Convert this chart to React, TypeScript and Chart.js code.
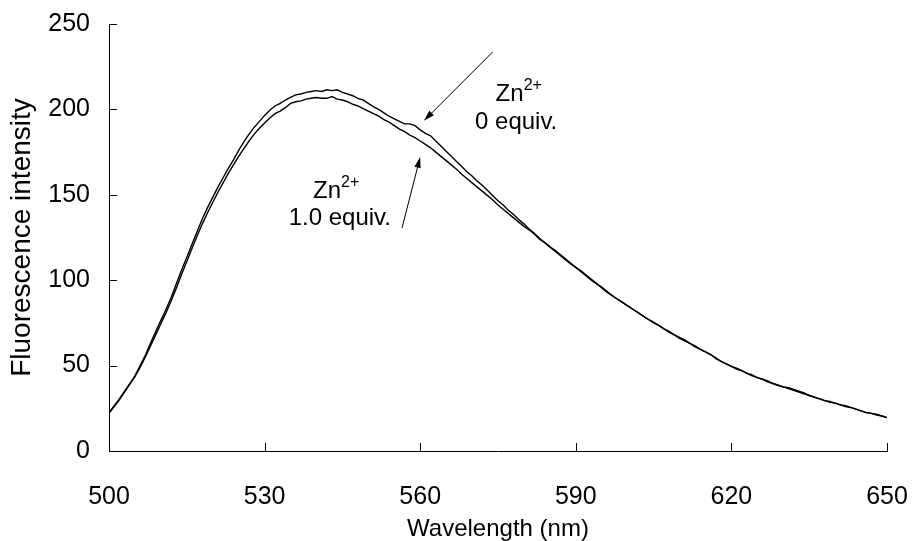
import { useEffect, useRef } from "react";
import { Chart, registerables } from "chart.js";

Chart.register(...registerables);

// Wavelength grid: 500 nm to 650 nm, 1 nm apart
const startNm = 500;
const stepNm = 1;

const xTickValues = [500, 530, 560, 590, 620, 650];
const yTickValues = [0, 50, 100, 150, 200, 250];

// Zn2+ 0 equiv.
const zn0Equiv = [
  22.5, 26.5, 30.5, 35, 39.5, 44, 50, 56, 63, 70,
  76.5, 83, 90, 98, 106, 113.5, 121, 128.5, 136, 142.5,
  148.5, 154.5, 160, 165.5, 170.5, 176, 181, 185.5, 189.5, 193,
  196.5, 199.5, 202, 203.5, 205.5, 207, 208.5, 209, 210, 210.5,
  211, 210.5, 211.5, 211, 211.5, 210, 209, 208, 206.5, 205.5,
  203.5, 201.5, 200, 198, 196, 194.5, 193, 191.5, 191.5, 190.5,
  188, 186, 184.5, 181.5, 178.5, 175.5, 172.5, 169.5, 166.5, 163.5,
  161, 158, 155.5, 152.5, 149.5, 146.5, 144, 141, 138.5, 135.5,
  133, 130, 127.5, 124.5, 122, 119.5, 117, 114.5, 112, 109.5,
  107.5, 105, 102.5, 100, 98, 95.5, 93, 91, 89, 87,
  85, 83, 81, 79, 77, 75.5, 73.5, 71.5, 70, 68,
  66.5, 65, 63, 61.5, 59.5, 58, 56.5, 54, 52.5, 51,
  49.5, 48.5, 47, 45.5, 44, 43, 42, 41, 39.5, 38.5,
  37.5, 37, 36, 35, 34, 32.5, 31.5, 30.5, 29.5, 29,
  28, 27, 26, 25.5, 24.5, 23.5, 22.5, 22, 21, 20.5,
  19.5,
];

// Zn2+ 1.0 equiv.
const zn10Equiv = [
  22, 26, 30, 34.5, 39, 43.5, 49, 55, 61.5, 68,
  74.5, 81, 88, 95.5, 103.5, 111, 118.5, 126, 133, 139.5,
  145.5, 151.5, 157, 162.5, 167.5, 172.5, 177, 181.5, 185.5, 189,
  192, 195, 197.5, 199, 201, 203.5, 204.5, 205, 206, 206.5,
  207, 206.5, 206.5, 207.5, 206, 205.5, 204.5, 203, 202, 200.5,
  199, 197.5, 196, 194, 192.5, 190.5, 188.5, 187, 185, 183.5,
  181.5, 179.5, 177.5, 175, 172.5, 170, 167.5, 165, 162, 159.5,
  157, 154.5, 152, 149.5, 147, 144, 141.5, 139, 136.5, 134,
  131.5, 129.5, 127, 124, 122, 119.5, 117.5, 115, 112.5, 110,
  107.5, 105.5, 103, 100.5, 98, 96, 93.5, 91, 89, 87,
  85, 83, 81, 79, 77, 75, 73.5, 71.5, 69.5, 68,
  66, 64.5, 63, 61, 59.5, 58, 56.5, 54.5, 52.5, 51,
  49.5, 48, 47, 45.5, 44.5, 43, 42, 40.5, 39.5, 38.5,
  37.5, 36.5, 35.5, 34.5, 33.5, 32.5, 31.5, 30.5, 29.5, 28.5,
  28, 27, 26.5, 25.5, 24.5, 23.5, 22.5, 22, 21.5, 20.5,
  19.5,
];

const xTitle = "Wavelength (nm)";
const yTitle = "Fluorescence intensity";

// Annotation anchors in data units (wavelength, intensity)
const label0 = { znAt: [579.0, 210.5], equivAt: [578.5, 192.5], equiv: "0 equiv." };
const arrow0 = { from: [574.0, 233.7], to: [560.7, 193.3] };
const label10 = { znAt: [543.8, 153.5], equivAt: [544.5, 136.0], equiv: "1.0 equiv." };
const arrow10 = { from: [556.5, 130.6], to: [560.0, 172.2] };

const FONT = "'Liberation Sans', Arial, sans-serif";
const TICK_SIZE = 25;
const ANNOT_SIZE = 24;
const SUP_SIZE = 16;

const toPoints = (vals: number[]) =>
  vals.map((v, i) => ({ x: startNm + i * stepNm, y: v }));

const zeroPadding = (s: any) => {
  s.paddingTop = 0;
  s.paddingBottom = 0;
  s.paddingLeft = 0;
  s.paddingRight = 0;
};

const overlayPlugin = {
  id: "overlay",
  afterDraw(chart: any) {
    const ctx = chart.ctx as CanvasRenderingContext2D;
    const xs = chart.scales.x;
    const ys = chart.scales.y;
    ctx.save();
    ctx.strokeStyle = "#000";
    ctx.fillStyle = "#000";
    ctx.lineWidth = 1;
    // inward tick marks
    ctx.beginPath();
    for (const v of xTickValues) {
      const px = Math.round(xs.getPixelForValue(v)) + 0.5;
      ctx.moveTo(px, ys.bottom);
      ctx.lineTo(px, ys.bottom - 8);
    }
    for (const v of yTickValues) {
      const py = Math.round(ys.getPixelForValue(v)) + 0.5;
      ctx.moveTo(xs.left, py);
      ctx.lineTo(xs.left + 8, py);
    }
    ctx.stroke();

    const P = (p: number[]) => [xs.getPixelForValue(p[0]), ys.getPixelForValue(p[1])];

    const drawZn = (at: number[]) => {
      const [cx, cy] = P(at);
      ctx.font = `${ANNOT_SIZE}px ${FONT}`;
      const w1 = ctx.measureText("Zn").width;
      ctx.font = `${SUP_SIZE}px ${FONT}`;
      const w2 = ctx.measureText("2+").width;
      const x0 = cx - (w1 + w2) / 2;
      ctx.textBaseline = "middle";
      ctx.textAlign = "left";
      ctx.font = `${ANNOT_SIZE}px ${FONT}`;
      ctx.fillText("Zn", x0, cy + 3);
      ctx.font = `${SUP_SIZE}px ${FONT}`;
      ctx.fillText("2+", x0 + w1, cy - 6);
    };
    const drawText = (at: number[], t: string) => {
      const [cx, cy] = P(at);
      ctx.font = `${ANNOT_SIZE}px ${FONT}`;
      ctx.textBaseline = "middle";
      ctx.textAlign = "center";
      ctx.fillText(t, cx, cy);
    };
    const drawArrow = (a: { from: number[]; to: number[] }) => {
      const [x1, y1] = P(a.from);
      const [x2, y2] = P(a.to);
      const ang = Math.atan2(y2 - y1, x2 - x1);
      const hl = 11;
      const hw = 3.2;
      const bx = x2 - hl * Math.cos(ang);
      const by = y2 - hl * Math.sin(ang);
      ctx.beginPath();
      ctx.moveTo(x1, y1);
      ctx.lineTo(bx, by);
      ctx.stroke();
      ctx.beginPath();
      ctx.moveTo(x2, y2);
      ctx.lineTo(bx + hw * Math.sin(ang), by - hw * Math.cos(ang));
      ctx.lineTo(bx - hw * Math.sin(ang), by + hw * Math.cos(ang));
      ctx.closePath();
      ctx.fill();
    };

    drawZn(label0.znAt);
    drawText(label0.equivAt, label0.equiv);
    drawArrow(arrow0);
    drawZn(label10.znAt);
    drawText(label10.equivAt, label10.equiv);
    drawArrow(arrow10);
    ctx.restore();
  },
};

export default function App() {
  const ref = useRef<HTMLCanvasElement | null>(null);
  useEffect(() => {
    if (!ref.current) return;
    const lineStyle = {
      borderColor: "#000",
      borderWidth: 1.4,
      pointRadius: 0,
      tension: 0,
      fill: false,
    };
    const chart = new Chart(ref.current, {
      type: "line",
      data: {
        datasets: [
          { label: "Zn2+ 0 equiv.", data: toPoints(zn0Equiv), ...lineStyle },
          { label: "Zn2+ 1.0 equiv.", data: toPoints(zn10Equiv), ...lineStyle },
        ],
      },
      options: {
        animation: false,
        responsive: false,
        maintainAspectRatio: false,
        layout: { padding: { top: 24, right: 26, left: 0, bottom: 0 } },
        plugins: {
          legend: { display: false },
          tooltip: { enabled: false },
        },
        scales: {
          x: {
            type: "linear",
            min: 500,
            max: 650,
            afterBuildTicks: (s: any) => {
              s.ticks = xTickValues.map((v) => ({ value: v }));
            },
            afterFit: (s: any) => {
              s.height = 90;
              zeroPadding(s);
            },
            grid: { display: false, drawTicks: false },
            border: { display: true, color: "#000", width: 1 },
            ticks: {
              color: "#000",
              font: { family: FONT, size: TICK_SIZE },
              padding: 31,
              maxRotation: 0,
              autoSkip: false,
            },
            title: {
              display: true,
              text: xTitle,
              color: "#000",
              font: { family: FONT, size: 24, lineHeight: 1.0 },
              padding: { top: 0, bottom: 0 },
            },
          },
          y: {
            type: "linear",
            min: 0,
            max: 250,
            afterBuildTicks: (s: any) => {
              s.ticks = yTickValues.map((v) => ({ value: v }));
            },
            afterFit: (s: any) => {
              s.width = 109;
              zeroPadding(s);
            },
            grid: { display: false, drawTicks: false },
            border: { display: true, color: "#000", width: 1 },
            ticks: {
              color: "#000",
              font: { family: FONT, size: TICK_SIZE },
              padding: 19,
            },
            title: {
              display: true,
              text: yTitle,
              color: "#000",
              font: { family: FONT, size: 28, lineHeight: 1.0 },
              padding: { top: 8, bottom: 0 },
            },
          },
        },
      },
      plugins: [overlayPlugin],
    });
    return () => chart.destroy();
  }, []);
  return (
    <div style={{ position: "fixed", left: 0, top: 0, width: 913, height: 541, background: "#fff" }}>
      <canvas ref={ref} width={913} height={541} style={{ width: 913, height: 541 }} />
    </div>
  );
}
